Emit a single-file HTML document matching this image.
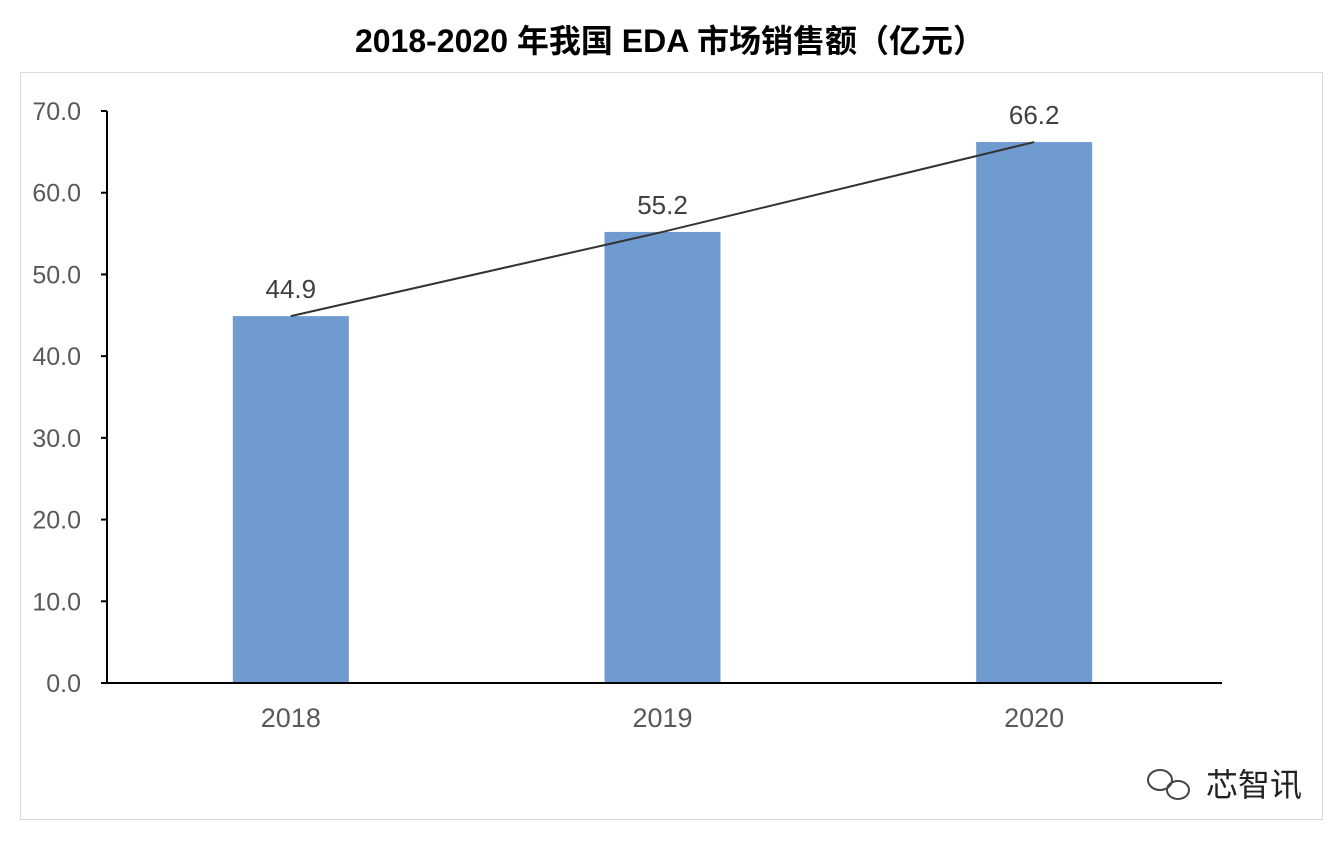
<!DOCTYPE html>
<html><head><meta charset="utf-8"><style>
body{margin:0;background:#fff;width:1344px;height:842px;overflow:hidden;font-family:"Liberation Sans","Noto Sans CJK SC",sans-serif}
</style></head><body>
<svg id="chart" width="1344" height="842" xmlns="http://www.w3.org/2000/svg">
<rect x="20.5" y="72.5" width="1302" height="747" fill="none" stroke="#d9d9d9"/>
<text x="670" y="52" text-anchor="middle" font-size="32" font-weight="bold" fill="#000" font-family="Liberation Sans,Noto Sans CJK SC,sans-serif">2018-2020 年我国 EDA 市场销售额（亿元）</text>
<g id="plot"></g>
<g>
<ellipse cx="1160" cy="780" rx="12" ry="10" fill="none" stroke="#444" stroke-width="2"/>
<ellipse cx="1178" cy="790" rx="11" ry="9" fill="none" stroke="#444" stroke-width="2"/>
<text x="1302" y="796" text-anchor="end" font-size="32" fill="#222" font-family="Noto Sans CJK SC,sans-serif">芯智讯</text>
</g>
</svg>
<script>
const categories=["2018","2019","2020"];
const values=[44.9,55.2,66.2];
const ticks=[0,10,20,30,40,50,60,70];
const ns="http://www.w3.org/2000/svg";
const g=document.getElementById('plot');
const x0=107,x1=1222,y0=683,ymax=70,ytop=111;
const band=(x1-x0)/categories.length;
const xc=i=>x0-2+band*(i+0.5);
const y=v=>y0-(v/ymax)*(y0-ytop);
function mk(t,a){const e=document.createElementNS(ns,t);for(const k in a)e.setAttribute(k,a[k]);g.appendChild(e);return e;}
ticks.forEach(t=>{
 const l=mk('line',{x1:x0-6,x2:x0,y1:y(t),y2:y(t),stroke:'#000','stroke-width':2});
 
 
 const tx=mk('text',{x:x0-26,y:y(t)+9,'text-anchor':'end','font-size':25,fill:'#595959'});
 tx.textContent=t.toFixed(1);
 
 
});
values.forEach((v,i)=>{
 const r=mk('rect',{x:xc(i)-58,y:y(v),width:116,height:y0-y(v),fill:'#6f9bd1'});
 
 
 const lb=mk('text',{x:xc(i),y:y(v)-18,'text-anchor':'middle','font-size':26,fill:'#404040'});
 lb.textContent=v.toFixed(1);
 
 
 const cl=mk('text',{x:xc(i),y:y0+44,'text-anchor':'middle','font-size':27,fill:'#595959'});
 cl.textContent=categories[i];
 
 
});
const ya=mk('line',{x1:x0,x2:x0,y1:ytop,y2:y0,stroke:'#000','stroke-width':2});


const xa=mk('line',{x1:x0,x2:x1,y1:y0,y2:y0,stroke:'#000','stroke-width':2});


const pl=mk('polyline',{points:values.map((v,i)=>xc(i)+','+y(v)).join(' '),fill:'none',stroke:'#333','stroke-width':2});


</script>
</body></html>
